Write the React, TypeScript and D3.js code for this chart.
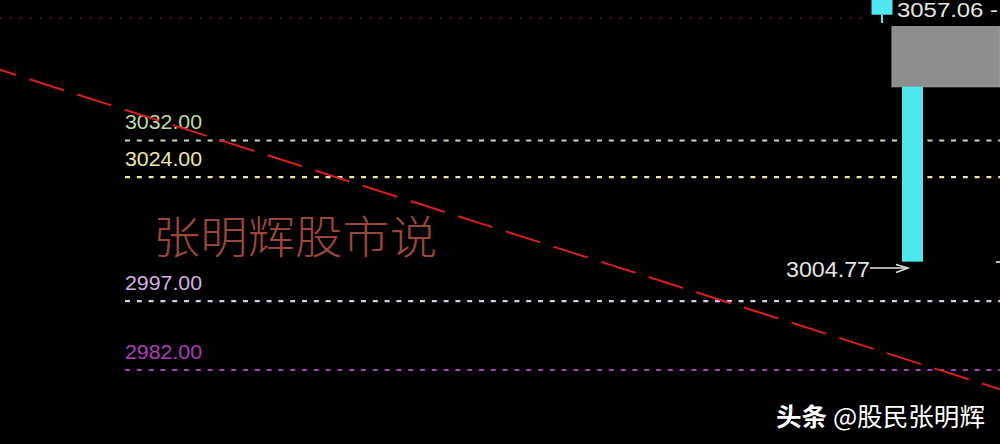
import React from "react";
import * as d3 from "d3";

const W = 1000;
const H = 444;

// horizontal price levels
const levelValues = [3032, 3024, 2997, 2982];
const levelLabels = ["3032.00", "3024.00", "2997.00", "2982.00"];
const levelLabelColors = ["#b9dca6", "#ece6a8", "#d4aee4", "#ac3cbc"];
const levelLineColors = ["#c4dcb4", "#ece6b0", "#dccbe6", "#a444b4"];

// candles (position in % of chart width, open, close, low)
const candlePos = [88.2, 91.25];
const candleOpen = [3063.5, 3043.7];
const candleClose = [3059.4, 3005.6];
const candleLow = [3057.6, 3005.6];

// gray overlay zone
const zoneTop = [3056.8];
const zoneBottom = [3043.7];
const zoneStart = [89.2];

// red trend line (position %, value)
const trendPos = [0, 100];
const trendVal = [3047.4, 2977.8];

// top reference dotted line
const topRefVal = [3058.7];

// annotations
const highLabel = "3057.06 -";
const lowLabel = "3004.77";
const lowValue = [3004.77];
const watermark = "张明辉股市说";
const creditBold = "头条";
const creditRest = " @股民张明辉";

export default function App() {
  const y = d3.scaleLinear().domain([2982, 3032]).range([370, 140.5]);
  const x = d3.scaleLinear().domain([0, 100]).range([0, W]);

  const trend = d3
    .line<number>()
    .x((_, i) => x(trendPos[i]))
    .y((d) => y(d));

  const cw = 21;
  const cyan = "#4ee6ef";

  return (
    <svg
      width={W}
      height={H}
      style={{ position: "absolute", left: 0, top: 0, background: "#000", display: "block" }}
    >
      <rect x={0} y={0} width={W} height={H} fill="#000" />

      {/* top dotted reference line */}
      <line
        x1={x(0)}
        x2={x(86.8)}
        y1={y(topRefVal[0])}
        y2={y(topRefVal[0])}
        stroke="#6e2a22"
        strokeWidth={1.5}
        strokeDasharray="1.5 8.5"
      />

      {/* level lines */}
      {levelValues.map((v, i) => (
        <g key={i}>
          <line
            x1={125}
            x2={W}
            y1={y(v)}
            y2={y(v)}
            stroke={levelLineColors[i]}
            strokeWidth={2.2}
            strokeDasharray="5 6.8"
          />
          <text
            x={125}
            y={y(v) - 11.5}
            fill={levelLabelColors[i]}
            fontFamily="Liberation Sans, Arial, sans-serif"
            fontSize={20}
            textLength={77}
            lengthAdjust="spacingAndGlyphs"
          >
            {levelLabels[i]}
          </text>
        </g>
      ))}

      {/* watermark */}
      <text
        x={153}
        y={254}
        fill="#98473a"
        fontFamily="Noto Sans CJK SC, sans-serif"
        fontWeight={300}
        fontSize={45}
        textLength={284}
        lengthAdjust="spacingAndGlyphs"
      >
        {watermark}
      </text>

      {/* gray zone */}
      <rect
        x={x(zoneStart[0])}
        y={y(zoneTop[0])}
        width={W - x(zoneStart[0])}
        height={y(zoneBottom[0]) - y(zoneTop[0])}
        fill="#8d8d8d"
        stroke="#a0a0a0"
        strokeWidth={1}
      />

      {/* candles */}
      {candlePos.map((p, i) => {
        const cx = x(p);
        const top = y(Math.max(candleOpen[i], candleClose[i]));
        const bot = y(Math.min(candleOpen[i], candleClose[i]));
        return (
          <g key={i}>
            <line x1={cx} x2={cx} y1={bot} y2={y(candleLow[i])} stroke={cyan} strokeWidth={2} />
            <rect x={cx - cw / 2} y={top} width={cw} height={bot - top} fill={cyan} />
          </g>
        );
      })}

      {/* high label */}
      <text
        x={897}
        y={17}
        fill="#e4e4e4"
        fontFamily="Liberation Sans, Arial, sans-serif"
        fontSize={20}
        textLength={101}
        lengthAdjust="spacingAndGlyphs"
      >
        {highLabel}
      </text>

      {/* low label with arrow */}
      <text
        x={786}
        y={277}
        fill="#e4e4e4"
        fontFamily="Liberation Sans, Arial, sans-serif"
        fontSize={22}
        textLength={84}
        lengthAdjust="spacingAndGlyphs"
      >
        {lowLabel}
      </text>
      <g stroke="#e4e4e4" strokeWidth={1.5} fill="none">
        <line x1={870} x2={907} y1={y(lowValue[0]) + 2.5} y2={y(lowValue[0]) + 2.5} />
        <polyline
          points={`${896},${y(lowValue[0]) - 1} ${908},${y(lowValue[0]) + 2.5} ${896},${y(lowValue[0]) + 7}`}
        />
      </g>

      {/* trend line */}
      <path
        d={trend(trendVal) || ""}
        stroke="#d62020"
        strokeWidth={2}
        fill="none"
        strokeDasharray="36 14"
        strokeDashoffset={19}
      />

      {/* small mark at right edge */}
      <rect x={996} y={261} width={4} height={2} fill="#b8b8b8" />

      {/* credit */}
      <text
        x={776}
        y={426}
        fill="#ffffff"
        fontFamily="Noto Sans CJK SC, sans-serif"
        fontSize={25}
        textLength={209}
        lengthAdjust="spacingAndGlyphs"
      >
        <tspan fontWeight={700}>{creditBold}</tspan>
        <tspan fontWeight={400}>{creditRest}</tspan>
      </text>
    </svg>
  );
}
